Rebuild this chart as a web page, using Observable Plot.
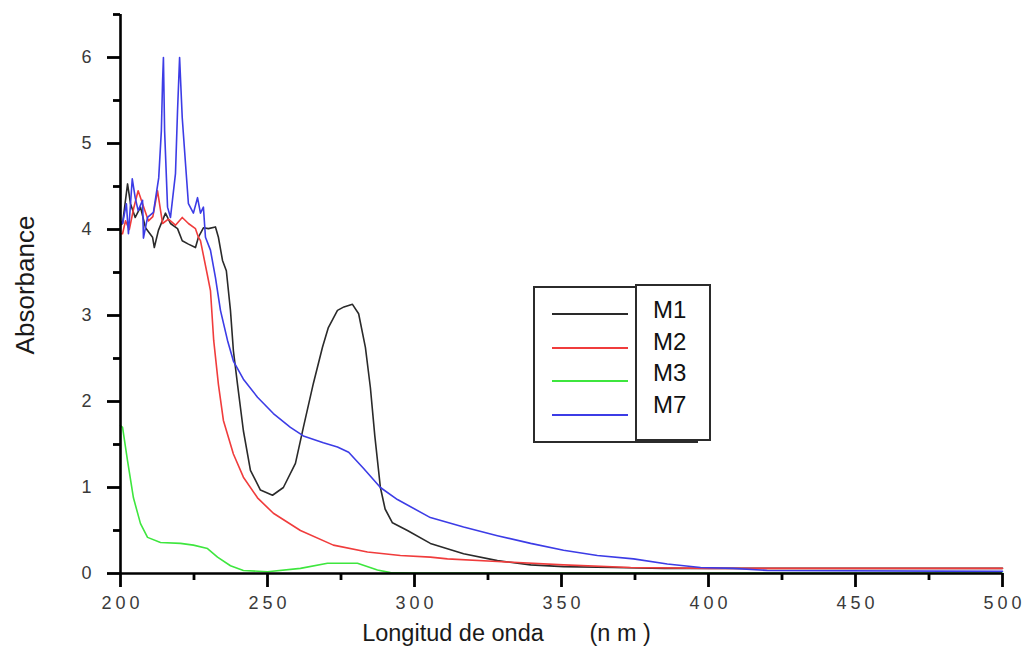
<!DOCTYPE html>
<html>
<head>
<meta charset="utf-8">
<script src="https://cdn.jsdelivr.net/npm/d3@7"></script>
<script src="https://cdn.jsdelivr.net/npm/@observablehq/plot@0.6"></script>
<style>
  html, body { margin: 0; padding: 0; background: #fff; }
  #wrap { position: relative; width: 1029px; height: 657px; font-family: "Liberation Sans", Arial, sans-serif; }
  .lg-box { position: absolute; box-sizing: border-box; border: 2px solid #2b2b2b; background: #fff; }
  .lg-line { position: absolute; height: 2px; }
  .lg-text { position: absolute; font-size: 24px; color: #111; line-height: 24px; }
</style>
</head>
<body>
<div id="wrap"></div>
<script>
// ---- Data ----
const seriesNames = ["M1", "M2", "M3", "M7"];
const seriesColors = ["#2a2a2a", "#f03c3c", "#3ee63e", "#3c3ce6"];

const M1_nm  = [200, 200.7, 202.4, 203.4, 205, 206.8, 208.5, 210.9, 211.5, 212.9, 215.3, 217, 219.4, 221, 223.1, 225.5, 226.5, 228.2, 229.9, 232.3, 233.3, 234.7, 236, 237.4, 238.4, 239.8, 241.8, 244.2, 247.6, 251.7, 255.4, 259.5, 262.2, 265.6, 268.7, 270.7, 273.8, 276, 278.9, 281, 283.3, 285, 286.5, 288.4, 290, 292.5, 297.6, 305.4, 316.7, 328.2, 339.5, 350.7, 367.7, 385, 420, 500];
const M1_abs = [4.05, 4.07, 4.53, 4.3, 4.14, 4.26, 4.02, 3.91, 3.79, 3.99, 4.19, 4.07, 4.01, 3.87, 3.83, 3.79, 3.91, 4.02, 4.01, 4.03, 3.91, 3.64, 3.52, 3.06, 2.59, 2.2, 1.66, 1.2, 0.97, 0.91, 1.0, 1.28, 1.7, 2.21, 2.63, 2.86, 3.06, 3.1, 3.13, 3.02, 2.63, 2.16, 1.6, 1.0, 0.75, 0.59, 0.5, 0.35, 0.23, 0.15, 0.1, 0.08, 0.07, 0.06, 0.06, 0.06];

const M2_nm  = [200, 200.7, 201.7, 203, 204.5, 206, 207.5, 209.5, 211, 212.6, 214.3, 216.3, 218.7, 221, 223.1, 225.5, 226.5, 227.2, 229.5, 230.6, 231.7, 233.3, 235, 238.4, 241.8, 246.6, 252, 261.2, 272.4, 284, 295.2, 305.4, 311.2, 328.2, 350.7, 373.5, 400, 500];
const M2_abs = [3.95, 3.95, 4.1, 4.0, 4.25, 4.45, 4.3, 4.1, 4.15, 4.45, 4.07, 4.12, 4.05, 4.14, 4.07, 4.01, 3.91, 3.87, 3.48, 3.29, 2.71, 2.2, 1.78, 1.39, 1.12, 0.88, 0.7, 0.5, 0.33, 0.25, 0.21, 0.19, 0.17, 0.14, 0.1, 0.07, 0.06, 0.06];

const M3_nm  = [200, 200.7, 202.4, 204.4, 206.8, 209.2, 213.6, 220.4, 224.8, 229.6, 233, 237.4, 241.8, 250, 261.2, 270.4, 280.6, 287.4, 291.8, 300, 500];
const M3_abs = [1.72, 1.7, 1.31, 0.88, 0.58, 0.42, 0.36, 0.35, 0.33, 0.29, 0.19, 0.09, 0.035, 0.02, 0.06, 0.12, 0.12, 0.04, 0.01, 0.005, 0.005];

const M7_nm  = [200, 200.7, 202, 202.7, 204, 205, 206, 207.5, 207.8, 209.2, 211.2, 213, 213.9, 214.3, 214.6, 215, 216, 217, 218.7, 219.4, 220.1, 221, 222.1, 223.1, 224.8, 226.2, 227.2, 228.2, 228.9, 230.6, 232.3, 234, 236.4, 238.4, 241.8, 246.6, 252, 257.8, 262.2, 269, 273.8, 277.6, 282.7, 288.4, 294.2, 305.4, 316.7, 328.2, 339.5, 350.7, 362.2, 374.5, 386, 397.3, 408.5, 420, 500];
const M7_abs = [4.1, 4.07, 4.3, 3.95, 4.59, 4.37, 4.22, 4.34, 3.9, 4.14, 4.2, 4.6, 5.15, 5.71, 6.0, 5.15, 4.26, 4.14, 4.65, 5.38, 6.0, 5.3, 4.77, 4.3, 4.19, 4.37, 4.19, 4.26, 3.91, 3.76, 3.44, 3.06, 2.71, 2.47, 2.26, 2.05, 1.86, 1.7, 1.6, 1.52, 1.47, 1.41, 1.22, 1.0, 0.86, 0.65, 0.54, 0.44, 0.35, 0.27, 0.21, 0.17, 0.11, 0.07, 0.06, 0.035, 0.025];

const xMajorTicks = [200, 250, 300, 350, 400, 450, 500];
const xMinorTicks = [225, 275, 325, 375, 425, 475];
const yMajorTicks = [0, 1, 2, 3, 4, 5, 6];
const yMinorTicks = [0.5, 1.5, 2.5, 3.5, 4.5, 5.5, 6.5];
const xTitle = "Longitud de onda\u00a0\u00a0\u00a0\u00a0\u00a0\u00a0\u00a0(n m )";
const yTitle = "Absorbance";

const nmLists = [M1_nm, M2_nm, M3_nm, M7_nm];
const absLists = [M1_abs, M2_abs, M3_abs, M7_abs];
const rows = [];
seriesNames.forEach((name, i) => {
  nmLists[i].forEach((nm, j) => rows.push({series: name, nm, abs: absLists[i][j]}));
});

const W = 1029, H = 657;
const mL = 120, mR = 27, mT = 14, mB = 84;
const frameW = W - mL - mR, frameH = H - mT - mB;
const xDomain = [200, 500], yDomain = [0, 6.5];
// tick lengths (px) expressed in data units so the rules extend outward
const nmPerPx = (xDomain[1] - xDomain[0]) / frameW;
const absPerPx = (yDomain[1] - yDomain[0]) / frameH;
const tickColor = "#000";
const labelColor = "#3a3a3a";

const chart = Plot.plot({
  width: W, height: H,
  marginLeft: mL, marginRight: mR, marginTop: mT, marginBottom: mB,
  style: {fontFamily: "Liberation Sans, Arial, sans-serif"},
  x: {domain: xDomain, axis: null},
  y: {domain: yDomain, axis: null},
  color: {domain: seriesNames, range: seriesColors},
  marks: [
    Plot.line(rows, {x: "nm", y: "abs", z: "series", stroke: "series", strokeWidth: 1.6}),
    // spines
    Plot.ruleX([xDomain[0]], {stroke: tickColor, strokeWidth: 2.6}),
    Plot.ruleY([yDomain[0]], {stroke: tickColor, strokeWidth: 2.6}),
    // outward ticks
    Plot.ruleY(yMajorTicks, {y: d => d, x1: xDomain[0] - 13 * nmPerPx, x2: xDomain[0], stroke: tickColor, strokeWidth: 2.8}),
    Plot.ruleY(yMinorTicks, {y: d => d, x1: xDomain[0] - 7 * nmPerPx, x2: xDomain[0], stroke: tickColor, strokeWidth: 2.8}),
    Plot.ruleX(xMajorTicks, {x: d => d, y1: yDomain[0], y2: yDomain[0] - 14 * absPerPx, stroke: tickColor, strokeWidth: 2.8}),
    Plot.ruleX(xMinorTicks, {x: d => d, y1: yDomain[0], y2: yDomain[0] - 7 * absPerPx, stroke: tickColor, strokeWidth: 2.8}),
    // tick labels
    Plot.text(yMajorTicks, {y: d => d, text: d => String(d), frameAnchor: "left", textAnchor: "end", dx: -29, fontSize: 18, fill: labelColor}),
    Plot.text(xMajorTicks, {x: d => d, text: d => String(d), frameAnchor: "bottom", lineAnchor: "top", dx: 2, dy: 23, fontSize: 18, fill: labelColor}),
    // axis titles
    Plot.text([xTitle], {frameAnchor: "bottom", dx: -55, dy: 67, fontSize: 23.5, fill: "#1a1a1a"}),
    Plot.text([yTitle], {frameAnchor: "left", textAnchor: "middle", rotate: -90, dx: -95, dy: -9, fontSize: 26, fill: "#1a1a1a"})
  ]
});

// spaced-out digits on the x tick labels, as in the reference
const xLabelSet = new Set(xMajorTicks.map(String));
chart.querySelectorAll("text").forEach(t => {
  if (xLabelSet.has(t.textContent)) t.style.letterSpacing = "4px";
});

const wrap = document.getElementById("wrap");
wrap.appendChild(chart);

// ---- Legend (HTML overlay) ----
const boxA = document.createElement("div");
boxA.className = "lg-box";
Object.assign(boxA.style, {left: "533px", top: "286px", width: "165px", height: "157px"});
wrap.appendChild(boxA);
const boxB = document.createElement("div");
boxB.className = "lg-box";
Object.assign(boxB.style, {left: "635px", top: "284px", width: "76px", height: "157px"});
wrap.appendChild(boxB);
seriesNames.forEach((name, i) => {
  const ln = document.createElement("div");
  ln.className = "lg-line";
  Object.assign(ln.style, {left: "552px", width: "76px", top: (313 + i * 33.5) + "px", background: seriesColors[i]});
  wrap.appendChild(ln);
  const tx = document.createElement("div");
  tx.className = "lg-text";
  tx.textContent = name;
  Object.assign(tx.style, {left: "653px", top: (298 + i * 31.5) + "px"});
  wrap.appendChild(tx);
});
</script>
</body>
</html>
